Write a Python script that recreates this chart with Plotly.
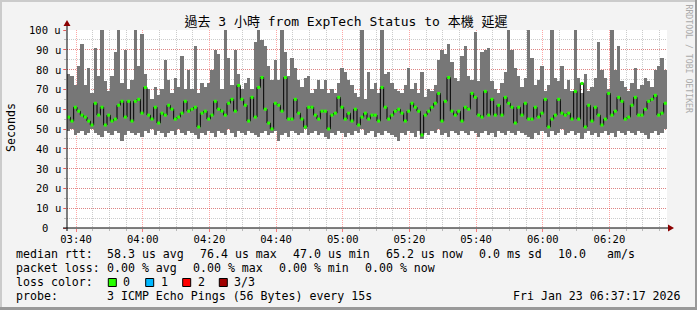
import datetime as dt
import plotly.graph_objects as go

# ---------------- data ----------------
start_time = dt.datetime(2026, 1, 23, 3, 37, 17)
step_minutes = 1

rtt_max_us = [
    78, 77, 72, 82, 93, 72, 81, 68, 91, 77, 100, 74, 69, 77, 89, 100, 73, 90, 70, 75,
    100, 82, 98, 78, 70, 65, 71, 67, 70, 85, 75, 68, 76, 71, 87, 70, 80, 70, 92, 68,
    73, 71, 73, 80, 90, 88, 70, 100, 86, 72, 90, 78, 70, 73, 76, 70, 94, 100, 95, 92,
    82, 75, 85, 75, 100, 89, 77, 86, 81, 75, 71, 76, 77, 68, 70, 75, 70, 75, 68, 70,
    68, 73, 81, 79, 75, 72, 68, 66, 100, 65, 79, 70, 73, 68, 100, 78, 79, 73, 70, 69,
    68, 72, 81, 70, 73, 68, 79, 66, 70, 69, 72, 85, 90, 88, 93, 84, 76, 74, 87, 92,
    77, 75, 99, 74, 89, 90, 91, 74, 70, 68, 73, 79, 100, 90, 81, 77, 71, 76, 100, 86,
    72, 75, 82, 69, 72, 100, 76, 74, 82, 70, 75, 69, 100, 76, 68, 78, 69, 71, 76, 94,
    80, 76, 70, 100, 80, 92, 74, 71, 69, 73, 81, 70, 72, 76, 74, 71, 80, 82, 86, 80,
]

rtt_min_us = [
    49, 50, 47, 48, 49, 47, 48, 50, 48, 47, 46, 49, 48, 47, 49, 48, 44, 47, 49, 48,
    47, 48, 46, 49, 48, 50, 47, 49, 48, 46, 48, 49, 47, 50, 48, 47, 49, 48, 47, 45,
    48, 47, 49, 48, 46, 49, 48, 47, 50, 48, 46, 49, 48, 47, 49, 48, 47, 46, 48, 49,
    47, 48, 49, 44, 47, 48, 46, 49, 48, 47, 48, 50, 47, 48, 49, 47, 48, 46, 45, 48,
    47, 49, 48, 46, 48, 47, 49, 48, 50, 47, 48, 49, 46, 48, 47, 49, 48, 47, 46, 44,
    48, 47, 49, 48, 46, 49, 45, 48, 47, 49, 48, 50, 47, 48, 46, 49, 48, 47, 49, 48,
    47, 49, 48, 46, 48, 49, 47, 48, 46, 49, 48, 47, 49, 48, 47, 49, 48, 47, 46, 45,
    48, 47, 49, 48, 46, 49, 47, 48, 50, 47, 48, 49, 47, 48, 45, 48, 49, 47, 48, 46,
    48, 49, 47, 48, 46, 49, 48, 47, 49, 48, 47, 49, 48, 47, 45, 48, 49, 47, 48, 50,
]

rtt_median_us = [
    56, 54, 61, 59, 57, 56, 54, 52, 63, 57, 61, 52, 57, 54, 55, 62, 64, 56, 64, 54,
    64, 65, 58, 71, 57, 55, 61, 53, 58, 57, 62, 60, 55, 56, 58, 64, 59, 60, 61, 51,
    58, 59, 55, 57, 64, 60, 59, 57, 63, 65, 59, 72, 65, 62, 54, 66, 56, 71, 76, 60,
    53, 50, 63, 62, 59, 76, 55, 55, 65, 58, 55, 51, 61, 61, 57, 55, 59, 59, 50, 57,
    58, 66, 61, 55, 58, 54, 60, 52, 56, 58, 55, 57, 57, 54, 71, 61, 55, 57, 59, 60,
    58, 54, 59, 63, 61, 59, 47, 57, 59, 61, 63, 68, 54, 64, 76, 59, 57, 59, 54, 61,
    60, 68, 66, 57, 56, 69, 57, 65, 57, 62, 57, 66, 63, 61, 53, 61, 57, 63, 55, 55,
    61, 56, 58, 65, 51, 55, 57, 65, 58, 57, 58, 55, 69, 55, 73, 51, 62, 54, 61, 57,
    52, 55, 68, 57, 59, 66, 64, 55, 56, 62, 66, 57, 57, 60, 64, 65, 67, 57, 58, 63,
]

y_tick_values = [0, 10, 20, 30, 40, 50, 60, 70, 80, 90, 100]
y_tick_labels = ["0", "10 u", "20 u", "30 u", "40 u", "50 u", "60 u", "70 u", "80 u", "90 u", "100 u"]

title_text = "過去 3 小時 from ExpTech Status to 本機 延遲"
y_title = "Seconds"

legend_rtt = [("median rtt:", 16), ("58.3 us avg", 107), ("76.4 us max", 200),
              ("47.0 us min", 292.7), ("65.2 us now", 386), ("0.0 ms sd", 479.3),
              ("10.0", 558), ("am/s", 607)]
legend_loss = [("packet loss:", 16), ("0.00 % avg", 107.3), ("0.00 % max", 193.3),
               ("0.00 % min", 279.3), ("0.00 % now", 365)]
loss_labels = ["0", "1", "2", "3/3"]
loss_colors = ["#26ff00", "#00b8ff", "#ff0000", "#a00000"]
probe_text = "3 ICMP Echo Pings (56 Bytes) every 15s"
date_text = "Fri Jan 23 06:37:17 2026"
watermark = "RRDTOOL / TOBI OETIKER"

# ---------------- layout constants ----------------
W_PX, H_PX = 697, 310
L, T, PW, PH = 67, 30, 600, 198
MONO = "DejaVu Sans Mono"


def px(x):
    return (x - L) / PW


def py(y):
    return (T + PH - y) / PH


n = len(rtt_median_us)
centers = [start_time + dt.timedelta(minutes=step_minutes * (i + 0.5)) for i in range(n)]
end_time = start_time + dt.timedelta(minutes=step_minutes * n)
bar_heights = [mx - mn for mx, mn in zip(rtt_max_us, rtt_min_us)]

fig = go.Figure()
fig.add_trace(go.Bar(
    x=centers, y=bar_heights, base=rtt_min_us, width=step_minutes * 60000,
    marker=dict(color="#777777", line=dict(width=0)), hoverinfo="skip",
))
fig.add_trace(go.Scatter(
    x=centers, y=rtt_median_us, mode="lines", line=dict(color="#000000", width=1, shape="hvh"),
    hoverinfo="skip",
))
fig.add_trace(go.Scatter(
    x=centers, y=rtt_median_us, mode="markers",
    marker=dict(symbol="square", size=3, color="#26ff00", line=dict(width=0)),
    hoverinfo="skip",
))

major_grid = "rgba(255,0,0,0.35)"
minor_grid = "rgba(128,128,128,0.4)"

fig.update_layout(
    width=W_PX, height=H_PX,
    margin=dict(l=L, r=W_PX - L - PW, t=T, b=H_PX - T - PH, pad=0),
    paper_bgcolor="#f3f3f3", plot_bgcolor="#ffffff",
    showlegend=False, bargap=0,
    font=dict(family=MONO, size=10.5, color="#000000"),
    title=dict(text=title_text, x=346 / W_PX, xref="container", xanchor="center",
               y=1 - 21 / H_PX, yref="container", yanchor="middle",
               font=dict(family=MONO + ", Noto Sans CJK TC", size=13, color="#000000")),
    xaxis=dict(
        type="date", range=[start_time, end_time],
        tick0="2026-01-23 03:40:00", dtick=20 * 60000, tickformat="%H:%M",
        showgrid=True, gridcolor=major_grid, griddash="1px,1px", gridwidth=1,
        ticks="outside", ticklen=3, tickcolor="rgba(255,0,0,0.5)", ticklabelstandoff=-2,
        minor=dict(dtick=5 * 60000, tick0="2026-01-23 03:40:00", showgrid=True,
                   gridcolor=minor_grid, griddash="1px,1px", gridwidth=1,
                   ticks="outside", ticklen=2, tickcolor="rgba(128,128,128,0.5)"),
        showline=False, zeroline=False, fixedrange=True,
        tickfont=dict(family=MONO, size=10.5),
    ),
    yaxis=dict(
        range=[0, 100], tickvals=y_tick_values, showticklabels=False,
        showgrid=True, gridcolor=major_grid, griddash="1px,1px", gridwidth=1,
        ticks="outside", ticklen=3, tickcolor="rgba(255,0,0,0.5)",
        minor=dict(dtick=5, showgrid=True, gridcolor=minor_grid, griddash="1px,1px",
                   gridwidth=1, ticks="outside", ticklen=2, tickcolor="rgba(128,128,128,0.5)"),
        showline=False, zeroline=False, fixedrange=True,
    ),
)

shapes = []
# frame (rrdtool 3D border)
shapes.append(dict(type="line", xref="paper", yref="paper", x0=px(0), x1=px(W_PX), y0=py(1), y1=py(1),
                   line=dict(color="#cbcbcb", width=2)))
shapes.append(dict(type="line", xref="paper", yref="paper", x0=px(1), x1=px(1), y0=py(0), y1=py(H_PX),
                   line=dict(color="#cbcbcb", width=2)))
shapes.append(dict(type="line", xref="paper", yref="paper", x0=px(0), x1=px(W_PX), y0=py(H_PX - 1.5), y1=py(H_PX - 1.5),
                   line=dict(color="#999999", width=3)))
shapes.append(dict(type="line", xref="paper", yref="paper", x0=px(W_PX - 1), x1=px(W_PX - 1), y0=py(0), y1=py(H_PX),
                   line=dict(color="#999999", width=2)))
# axes with arrows
shapes.append(dict(type="line", xref="paper", yref="paper", x0=px(63), x1=px(669), y0=py(228), y1=py(228),
                   line=dict(color="#000000", width=1)))
shapes.append(dict(type="line", xref="paper", yref="paper", x0=px(67), x1=px(67), y0=py(231), y1=py(25),
                   line=dict(color="#000000", width=1)))
shapes.append(dict(type="path", xref="paper", yref="paper",
                   path=f"M {px(668)} {py(224.5)} L {px(668)} {py(231.5)} L {px(674)} {py(228)} Z",
                   fillcolor="#8b0000", line=dict(width=0)))
shapes.append(dict(type="path", xref="paper", yref="paper",
                   path=f"M {px(63.5)} {py(26)} L {px(70.5)} {py(26)} L {px(67)} {py(20)} Z",
                   fillcolor="#8b0000", line=dict(width=0)))

annotations = []
LEG_SIZE = 11.6


def add_text(txt, x, y, size=LEG_SIZE, color="#000000", anchor="left", angle=0):
    annotations.append(dict(text=txt.replace(" ", "\u00a0"), xref="paper", yref="paper", x=px(x), y=py(y),
                            xanchor=anchor, yanchor="middle", showarrow=False, borderpad=0,
                            textangle=angle, font=dict(family=MONO, size=size, color=color)))


# y tick labels placed on the y scale
for v, lab in zip(y_tick_values, y_tick_labels):
    is_zero = (v == 0)
    annotations.append(dict(text=lab.replace(" ", "\u00a0"), xref="paper", yref="y",
                            x=px(45 if is_zero else 62), y=v,
                            xanchor="center" if is_zero else "right", yanchor="middle",
                            showarrow=False, borderpad=0,
                            font=dict(family=MONO, size=10.5, color="#000000")))

for txt, x in legend_rtt:
    add_text(txt, x - 1, 254)
for txt, x in legend_loss:
    add_text(txt, x - 1, 268)
add_text("loss color:", 15, 282)
sq_x = [108.3, 145.7, 182.7, 219.3]
lbl_x = [123.3, 160.7, 197.7, 234.3]
for c, lab, sx, lx in zip(loss_colors, loss_labels, sq_x, lbl_x):
    shapes.append(dict(type="rect", xref="paper", yref="paper", x0=px(sx), x1=px(sx + 8),
                       y0=py(286.5), y1=py(278.5), fillcolor=c, line=dict(color="#000000", width=1)))
    add_text(lab, lx - 1, 282)
add_text("probe:", 15, 296)
add_text(probe_text, 106.3, 296)
add_text(date_text, 512.3, 296)
add_text(watermark, 688.5, 59, size=8.2, color="#aaaaaa", anchor="center", angle=90)
add_text(y_title, 11, 128, anchor="center", angle=-90)

fig.update_layout(shapes=shapes, annotations=annotations)
fig.write_html("out.html")
